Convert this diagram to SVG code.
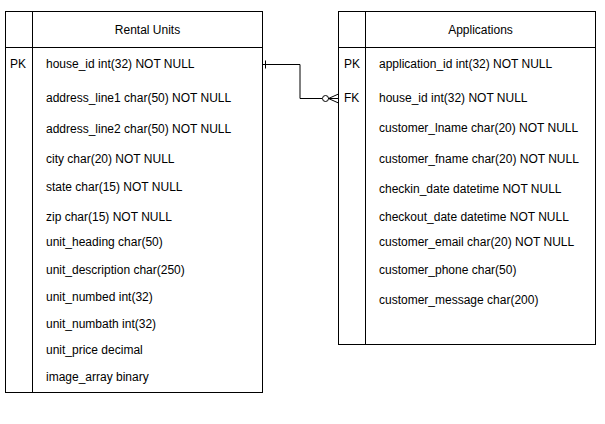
<svg xmlns="http://www.w3.org/2000/svg" width="605" height="424" viewBox="0 0 605 424">
<style>
.box{fill:#fff;stroke:#000;stroke-width:1}
.ln{stroke:#000;stroke-width:1;fill:none}
text{font-family:"Liberation Sans",Arial,sans-serif;font-size:12px;fill:#000}
.c{text-anchor:middle}
</style>
<rect x="0" y="0" width="605" height="424" fill="#fff"/>
<g id="rental_units">
<rect class="box" x="5.5" y="11.5" width="257" height="381"/>
<line class="ln" x1="5.5" y1="47.5" x2="262.5" y2="47.5"/>
<line class="ln" x1="32.5" y1="11.5" x2="32.5" y2="392.5"/>
<text class="c" x="147.5" y="34">Rental Units</text>
<text x="10" y="68">PK</text>
<text x="46" y="68">house_id int(32) NOT NULL</text>
<text x="46" y="102">address_line1 char(50) NOT NULL</text>
<text x="46" y="133">address_line2 char(50) NOT NULL</text>
<text x="46" y="163">city char(20) NOT NULL</text>
<text x="46" y="191">state char(15) NOT NULL</text>
<text x="46" y="221">zip char(15) NOT NULL</text>
<text x="46" y="246">unit_heading char(50)</text>
<text x="46" y="274">unit_description char(250)</text>
<text x="46" y="301">unit_numbed int(32)</text>
<text x="46" y="328">unit_numbath int(32)</text>
<text x="46" y="354">unit_price decimal</text>
<text x="46" y="381">image_array binary</text>
</g>
<g id="applications">
<rect class="box" x="338.5" y="11.5" width="257" height="333"/>
<line class="ln" x1="338.5" y1="47.5" x2="595.5" y2="47.5"/>
<line class="ln" x1="365.5" y1="11.5" x2="365.5" y2="344.5"/>
<text class="c" x="480.5" y="34">Applications</text>
<text x="344" y="68">PK</text>
<text x="379" y="68">application_id int(32) NOT NULL</text>
<text x="344" y="102">FK</text>
<text x="379" y="102">house_id int(32) NOT NULL</text>
<text x="379" y="132">customer_lname char(20) NOT NULL</text>
<text x="379" y="163">customer_fname char(20) NOT NULL</text>
<text x="379" y="193">checkin_date datetime NOT NULL</text>
<text x="379" y="221">checkout_date datetime NOT NULL</text>
<text x="379" y="246">customer_email char(20) NOT NULL</text>
<text x="379" y="274">customer_phone char(50)</text>
<text x="379" y="304">customer_message char(200)</text>
</g>
<g id="connectors">
<polyline class="ln" points="262.5,64.5 300,64.5 300,98.5 322,98.5"/>
<line class="ln" x1="265.5" y1="60.5" x2="265.5" y2="68.5"/>
<circle class="ln" cx="325.5" cy="98.5" r="3"/>
<polyline class="ln" points="338.5,94 328.5,98.5 338.5,103"/>
<line class="ln" x1="328.5" y1="98.5" x2="338.5" y2="98.5"/>
</g>
</svg>
